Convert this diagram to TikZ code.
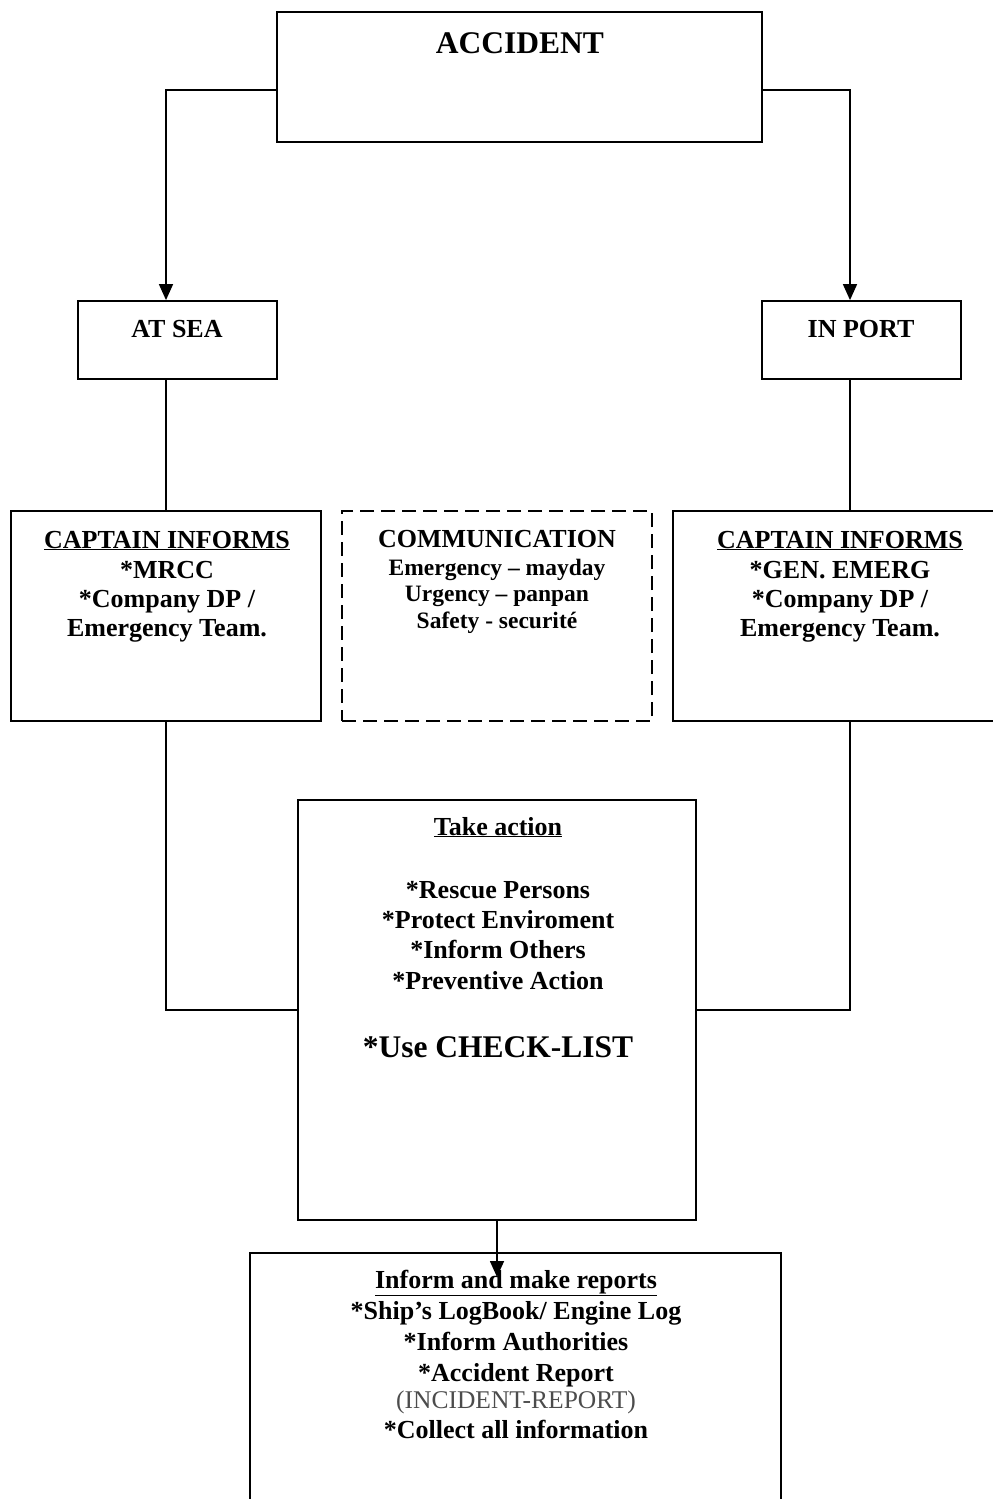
\documentclass[tikz,border=0pt]{standalone}
\usepackage{fontspec}
\setmainfont{Liberation Serif}
\usetikzlibrary{arrows.meta}
\begin{document}
\begin{tikzpicture}[x=1pt,y=-1pt,
  box/.style={draw, line width=1.8pt, inner sep=0pt},
  dbox/.style={box, dash pattern=on 14pt off 7pt},
  conn/.style={line width=1.6pt},
  arr/.style={conn, -{Triangle[length=16pt,width=14pt]}},
  t/.style={anchor=base, inner sep=0pt, font=\bfseries\fontsize{26}{30}\selectfont},
  ts/.style={anchor=base, inner sep=0pt, font=\bfseries\fontsize{23.5}{28}\selectfont},
  tb/.style={anchor=base, inner sep=0pt, font=\bfseries\fontsize{31.5}{36}\selectfont},
  tr/.style={anchor=base, inner sep=0pt, text=black!70, font=\fontsize{25.5}{30}\selectfont}]
\useasboundingbox (0,0) rectangle (993,1499);
% boxes
\node[box, minimum width=485pt, minimum height=130pt] (acc) at (519.5,77) {};
\node[box, minimum width=199pt, minimum height=78pt] (atsea) at (177.5,340) {};
\node[box, minimum width=199pt, minimum height=78pt] (inport) at (861.5,340) {};
\node[box, minimum width=310pt, minimum height=210pt] (capL) at (166,616) {};
\node[dbox, minimum width=310pt, minimum height=210pt] (comm) at (497,616) {};
\node[box, minimum width=327pt, minimum height=210pt] (capR) at (836.5,616) {};
\node[box, minimum width=398pt, minimum height=420pt] (take) at (497,1010) {};
\node[box, minimum width=531pt, minimum height=257pt] (inf) at (515.5,1381.5) {};
% connectors
\draw[arr] ([yshift=-13pt]acc.west) -| ([xshift=-11.5pt]atsea.north);
\draw[arr] ([yshift=-13pt]acc.east) -| ([xshift=-11.5pt]inport.north);
\draw[conn] (capL.north |- atsea.south) -- (capL.north);
\draw[conn] ([xshift=-11.5pt]inport.south) -- ([xshift=-11.5pt]inport.south |- capR.north);
\draw[conn] (capL.south) |- (take.west);
\draw[conn] ([xshift=13.5pt]capR.south) |- (take.east);
\coordinate (tip) at (497,1277);
\draw[arr] (take.south) -- (tip);
% texts
\node[tb] (accT) at (520,53) {ACCIDENT};
\node[t] (atseaT) at (177,337) {AT SEA};
\node[t] (inportT) at (861,337) {IN PORT};
\node[t] (cl1) at (167,548) {\underline{CAPTAIN INFORMS}};
\node[t] (cl2) at (167,578) {*MRCC};
\node[t] (cl3) at (167,607) {*Company DP /};
\node[t] (cl4) at (167,636) {Emergency Team.};
\node[t] (cm1) at (497,547) {COMMUNICATION};
\node[ts] (cm2) at (497,575) {Emergency – mayday};
\node[ts] (cm3) at (497,601) {Urgency – panpan};
\node[ts] (cm4) at (497,628) {Safety - securité};
\node[t] (cr1) at (840,548) {\underline{CAPTAIN INFORMS}};
\node[t] (cr2) at (840,578) {*GEN. EMERG};
\node[t] (cr3) at (840,607) {*Company DP /};
\node[t] (cr4) at (840,636) {Emergency Team.};
\node[t] (ta1) at (498,835) {\underline{Take action}};
\node[t] (ta2) at (498,898) {*Rescue Persons};
\node[t] (ta3) at (498,928) {*Protect Enviroment};
\node[t] (ta4) at (498,958) {*Inform Others};
\node[t] (ta5) at (498,989) {*Preventive Action};
\node[tb] (ta6) at (498,1057) {*Use CHECK-LIST};
\node[t] (ir1) at (516,1288) {\underline{Inform and make reports}};
\node[t] (ir2) at (516,1319) {*Ship’s LogBook/ Engine Log};
\node[t] (ir3) at (516,1350) {*Inform Authorities};
\node[t] (ir4) at (516,1381) {*Accident Report};
\node[tr] (ir5) at (516,1408) {(INCIDENT-REPORT)};
\node[t] (ir6) at (516,1438) {*Collect all information};
\end{tikzpicture}
\end{document}
